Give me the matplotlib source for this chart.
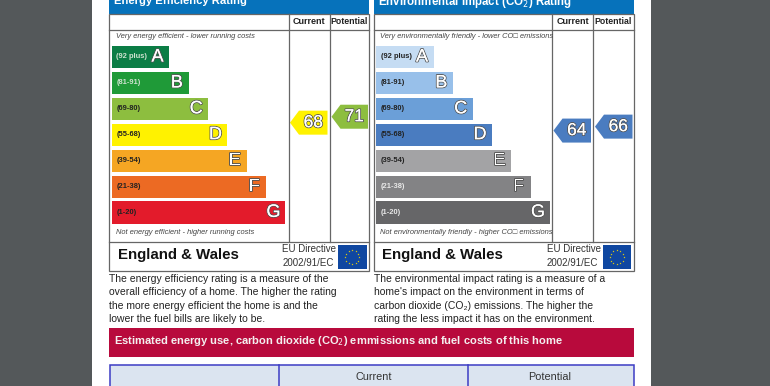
import matplotlib
matplotlib.use("Agg")
import matplotlib.pyplot as plt
import matplotlib.patheffects as pe
from matplotlib.patches import Polygon, Rectangle
import numpy as np

plt.rcParams['font.family'] = ['Liberation Sans', 'DejaVu Sans']

band_labels = ["(92 plus)", "(81-91)", "(69-80)", "(55-68)", "(39-54)", "(21-38)", "(1-20)"]
band_letters = ["A", "B", "C", "D", "E", "F", "G"]
band_lengths = [3, 4, 5, 6, 7, 8, 9]
energy_colors = ["#0b7d45", "#1f9a38", "#8dbe3f", "#fff200", "#f5a623", "#ec6a23", "#e31b2b"]
env_colors = ["#c5dcf3", "#98c0ea", "#6b9fd8", "#4a7cc0", "#a3a3a5", "#838385", "#666668"]
energy_label_colors = ["#cfe3d0", "#cfe3d0", "#222222", "#222222", "#222222", "#222222", "#222222"]
env_label_colors = ["#222222", "#222222", "#222222", "#222222", "#222222", "#e8e8e8", "#e8e8e8"]

energy_current, energy_potential = 68, 71
env_current, env_potential = 64, 66

energy_text = ["The energy efficiency rating is a measure of the",
               "overall efficiency of a home. The higher the rating",
               "the more energy efficient the home is and the",
               "lower the fuel bills are likely to be."]
env_text = ["The environmental impact rating is a measure of a",
            "home's impact on the environment in terms of",
            "carbon dioxide (CO\u2082) emissions. The higher the",
            "rating the less impact it has on the environment."]

fig = plt.figure(figsize=(7.7, 3.86), dpi=100, facecolor="#54585a")
ax = fig.add_axes([0, 0, 1, 1])
ax.set_xlim(0, 770)
ax.set_ylim(386, 0)
ax.axis("off")

LINE = "#666666"
ax.add_patch(Rectangle((92, -2), 558.5, 390, fc="white", ec="none"))


def outlined(x, y, s, size, ha="center"):
    # white letter with a dark edge, like the EPC band letters
    t = ax.text(x, y, s, fontsize=size, ha=ha, va="center", color="white")
    t.set_path_effects([pe.withStroke(linewidth=1.3, foreground="#555555"), pe.Normal()])
    return t


def rating_arrow(x0, x1, rating, color):
    y = 257.3 - 1.98 * rating
    ax.add_patch(Polygon([(x0, y), (x0 + 9, y - 12), (x1, y - 12), (x1, y + 12), (x0 + 9, y + 12)],
                         fc=color, ec="none"))
    outlined((x0 + 9 + x1) / 2, y, str(rating), 12.5)


def panel(x0, title, title_size, colors, label_colors, top_note, bottom_note, text_lines,
          current, potential, cur_color, pot_color, col1, col2):
    x1 = x0 + 260
    ax.add_patch(Rectangle((x0, -2), 260, 15.5, fc="#0672bb", ec="none"))
    ax.text(x0 + 5, 1.5, title, fontsize=title_size, fontweight="bold", color="white", va="center")

    # frame and grid
    ax.add_patch(Rectangle((x0, 13.5), 260, 257.5, fc="none", ec=LINE, lw=0.9))
    for y in (29.5, 241.5):
        ax.plot([x0, x1], [y, y], color=LINE, lw=0.9)
    for x in (col1, col2):
        ax.plot([x, x], [13.5, 241.5], color=LINE, lw=0.9)
    ax.text((col1 + col2) / 2, 21.5, "Current", fontsize=6.5, fontweight="bold", ha="center", va="center", color="#222222")
    ax.text((col2 + x1) / 2, 21.5, "Potential", fontsize=6.3, fontweight="bold", ha="center", va="center", color="#222222")

    ax.text(x0 + 6.5, 37, top_note, fontsize=5.4, style="italic", color="#444444", va="center")
    ax.text(x0 + 6.5, 232, bottom_note, fontsize=5.4, style="italic", color="#444444", va="center")

    # bands
    for i, length in enumerate(band_lengths):
        top = 46 + i * 25.9
        w = length * 19.33
        ax.add_patch(Rectangle((x0 + 2.5, top), w, 22.2, fc=colors[i], ec="none"))
        ax.text(x0 + 7.5, top + 11, band_labels[i], fontsize=5.4, fontweight="bold", color=label_colors[i], va="center")
        outlined(x0 + 2.5 + w - 12, top + 11, band_letters[i], 13)

    rating_arrow(col1 + 1.5, col2 - 2, current, cur_color)
    rating_arrow(col2 + 2, x1 - 1, potential, pot_color)

    # country row
    ax.text(x0 + 9, 255.5, "England & Wales", fontsize=10.8, fontweight="bold", color="#111111", va="center")
    ax.text(x0 + 173.5, 249.5, "EU Directive", fontsize=7, color="#333333", va="center")
    ax.text(x0 + 173.5, 263, "2002/91/EC", fontsize=7, color="#333333", va="center")
    ax.add_patch(Rectangle((x0 + 229, 245), 28.5, 24, fc="#0f47a1", ec="none"))
    theta = np.deg2rad(np.arange(0, 360, 30))
    ax.scatter(x0 + 243.2 + 7 * np.cos(theta), 257 + 7 * np.sin(theta), s=2.5, c="#f5d800", marker="*", linewidths=0)

    for i, line in enumerate(text_lines):
        ax.text(x0, 279 + i * 13.4, line, fontsize=7.5, color="#222222", va="center")


panel(109, "Energy Efficiency Rating", 8.1, energy_colors, energy_label_colors,
      "Very energy efficient - lower running costs", "Not energy efficient - higher running costs",
      energy_text, energy_current, energy_potential, "#fff200", "#8dbe3f", 288.5, 329.5)
panel(373.5, "Environmental Impact (CO$_2$) Rating", 8.3, env_colors, env_label_colors,
      "Very environmentally friendly - lower CO\u25a1 emissions", "Not environmentally friendly - higher CO\u25a1 emissions",
      env_text, env_current, env_potential, "#4a7cc0", "#4a7cc0", 552, 593)

# red banner
ax.add_patch(Rectangle((109, 328), 525, 29, fc="#b80a3c", ec="none"))
ax.text(114.5, 341.5, "Estimated energy use, carbon dioxide (CO$_2$) emmissions and fuel costs of this home",
        fontsize=8.05, fontweight="bold", color="#f4f0f0", va="center")

# table header
ax.add_patch(Rectangle((109.5, 364.5), 524, 30, fc="#dbe4f0", ec="#3c3cc4", lw=1.1))
for x in (279, 467.5):
    ax.plot([x, x], [364.5, 388], color="#3c3cc4", lw=1.1)
ax.text(374, 376.5, "Current", fontsize=7.8, color="#333333", ha="center", va="center")
ax.text(550, 376.5, "Potential", fontsize=7.8, color="#333333", ha="center", va="center")

fig.savefig("out.png", dpi=100)
